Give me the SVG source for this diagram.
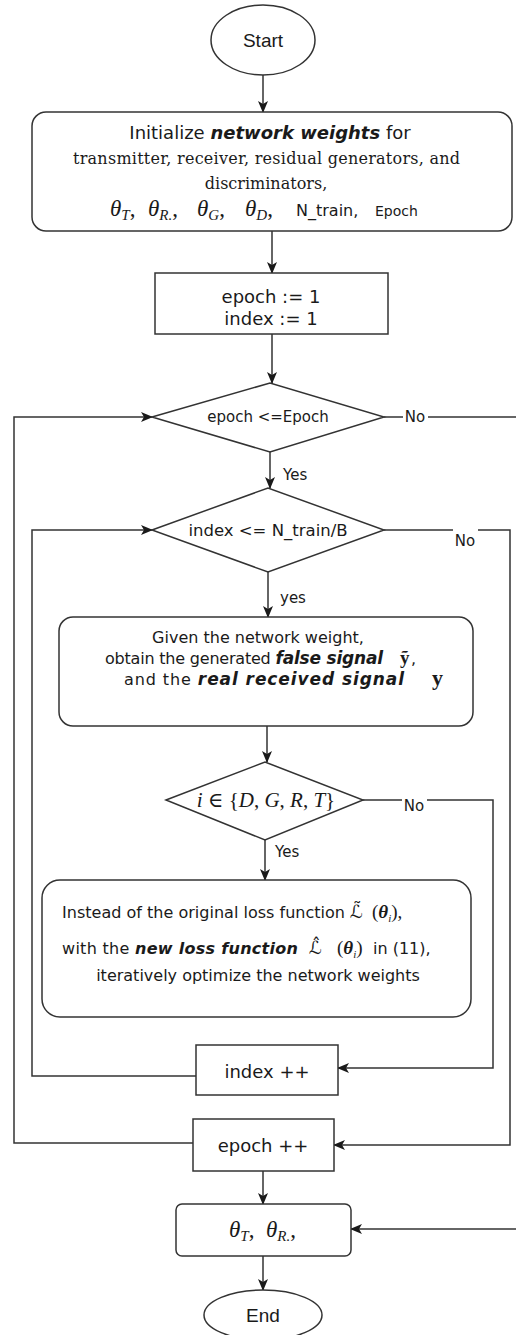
<svg xmlns="http://www.w3.org/2000/svg" width="516" height="1335" viewBox="0 0 516 1335">
<defs>
<style>
.box{fill:#fff;stroke:#333;stroke-width:1.5}
.ln{fill:none;stroke:#333;stroke-width:1.5}
.arr{marker-end:url(#ah)}
.t{font-family:"DejaVu Sans",Verdana,sans-serif;fill:#1a1a1a}
.bi{font-weight:bold;font-style:italic}
.sf{font-family:"DejaVu Serif",serif;fill:#1a1a1a}
.m{font-family:"Liberation Serif","DejaVu Serif",serif;font-style:italic;fill:#1a1a1a}
.cal{font-family:"DejaVu Sans",sans-serif;font-style:normal;fill:#1a1a1a}
.up{font-style:normal}
.a{font-family:"Liberation Sans",Arial,sans-serif;fill:#1a1a1a}
.lbl{font-family:"DejaVu Sans",sans-serif;font-size:15px;fill:#1a1a1a}
.bg{fill:#fff}
</style>
<marker id="ah" viewBox="0 0 12 10" refX="11" refY="5" markerWidth="12" markerHeight="10" markerUnits="userSpaceOnUse" orient="auto"><path d="M0,0 L12,5 L0,10 L3,5 Z" fill="#1a1a1a"/></marker>
</defs>
<rect width="516" height="1335" fill="#fff"/>

<g id="connectors">
<path class="ln arr" d="M263,75 V112"/>
<path class="ln arr" d="M272,231 V273"/>
<path class="ln arr" d="M272,334 V383"/>
<path class="ln arr" d="M270,452 V488"/>
<path class="ln" d="M384,417 H516"/>
<path class="ln arr" d="M193,1143 H14 V417 H152"/>
<path class="ln arr" d="M384,530 H510 V1145 H334"/>
<path class="ln arr" d="M196,1076 H32 V530 H152"/>
<path class="ln arr" d="M268,572 V617"/>
<path class="ln arr" d="M267,726 V762"/>
<path class="ln arr" d="M363,800 H493 V1068 H338"/>
<path class="ln arr" d="M265,840 V880"/>
<path class="ln arr" d="M263,1171 V1204"/>
<path class="ln arr" d="M516,1229 H351"/>
<path class="ln arr" d="M263,1256 V1290"/>
<rect class="bg" x="403" y="409" width="25" height="16"/>
<text class="lbl" x="415" y="422" text-anchor="middle">No</text>
<text class="lbl" x="283" y="480">Yes</text>
<rect class="bg" x="453" y="527" width="25" height="20"/>
<text class="lbl" x="465" y="546" text-anchor="middle">No</text>
<text class="lbl" x="280" y="603">yes</text>
<rect class="bg" x="402" y="795" width="25" height="18"/>
<text class="lbl" x="414" y="811" text-anchor="middle">No</text>
<text class="lbl" x="275" y="857">Yes</text>
</g>

<g id="start">
<ellipse class="box" cx="263" cy="40" rx="52" ry="35"/>
<text class="a" x="263" y="47" font-size="19" text-anchor="middle">Start</text>
</g>

<g id="init">
<rect class="box" x="32" y="112" width="480" height="119" rx="14"/>
<text class="t" x="270" y="139" font-size="18" text-anchor="middle">Initialize <tspan class="bi">network weights</tspan> for</text>
<text class="sf" x="73" y="164" font-size="16" textLength="387">transmitter, receiver, residual generators, and</text>
<text class="sf" x="266" y="189" font-size="16" text-anchor="middle">discriminators,</text>
<text class="m" font-size="23"><tspan x="110" y="216">θ</tspan><tspan y="220" font-size="15">T</tspan><tspan y="216" class="up">,</tspan><tspan x="148" y="216">θ</tspan><tspan y="220" font-size="15">R.</tspan><tspan y="216" class="up">,</tspan><tspan x="197" y="216">θ</tspan><tspan y="220" font-size="15">G</tspan><tspan y="216" class="up">,</tspan><tspan x="245" y="216">θ</tspan><tspan y="220" font-size="15">D</tspan><tspan y="216" class="up">,</tspan></text>
<text class="t" x="296" y="216" font-size="16">N_train,</text>
<text class="t" x="375" y="216" font-size="14">Epoch</text>
</g>

<g id="init-counters">
<rect class="box" x="155" y="273" width="233" height="61"/>
<text class="t" x="271" y="303" font-size="18" text-anchor="middle">epoch := 1</text>
<text class="t" x="271" y="325" font-size="18" text-anchor="middle">index := 1</text>
</g>

<g id="check-epoch">
<polygon class="box" points="152,417 270,383 384,417 270,452"/>
<text class="t" x="268" y="422" font-size="15" text-anchor="middle">epoch &lt;=Epoch</text>
</g>

<g id="check-index">
<polygon class="box" points="152,530 268,488 384,530 268,572"/>
<text class="t" x="268" y="536" font-size="16.5" text-anchor="middle">index &lt;= N_train/B</text>
</g>

<g id="signals">
<rect class="box" x="59" y="617" width="414" height="109" rx="14"/>
<text class="t" x="258" y="643" font-size="16" text-anchor="middle">Given the network weight,</text>
<text class="t" x="105" y="664" font-size="16" textLength="278">obtain the generated <tspan class="bi" font-size="17">false signal</tspan></text>
<text class="m up" x="400" y="664" font-size="19" font-weight="bold">ỹ</text>
<text class="t" x="411" y="664" font-size="16">,</text>
<text class="t" x="124" y="685" font-size="16" textLength="280">and the <tspan class="bi" font-size="17">real received signal</tspan></text>
<text class="m up" x="432" y="685" font-size="22" font-weight="bold">y</text>
</g>

<g id="check-member">
<polygon class="box" points="166,800 265,762 363,800 265,840"/>
<text class="m" x="266" y="807" font-size="21" text-anchor="middle">i <tspan class="up">∈ {</tspan>D<tspan class="up">, </tspan>G<tspan class="up">, </tspan>R<tspan class="up">, </tspan>T<tspan class="up">}</tspan></text>
</g>

<g id="loss">
<rect class="box" x="42" y="880" width="429" height="137" rx="18"/>
<text class="t" x="62" y="918" font-size="16" textLength="283">Instead of the original loss function</text>
<text class="m" font-size="18"><tspan class="cal" x="350" y="918">ℒ̃</tspan><tspan class="up" font-size="19" x="372" y="918">(</tspan><tspan font-size="19" font-weight="bold">θ</tspan><tspan font-size="11" y="922">i</tspan><tspan class="up" font-size="19" y="918">),</tspan></text>
<text class="t" x="62" y="954" font-size="16" textLength="236">with the <tspan class="bi">new loss function</tspan></text>
<text class="m" font-size="18"><tspan class="cal" x="309" y="954">ℒ̂</tspan><tspan class="up" font-size="19" x="337" y="954">(</tspan><tspan font-size="19" font-weight="bold">θ</tspan><tspan font-size="11" y="958">i</tspan><tspan class="up" font-size="19" y="954">)</tspan><tspan class="t up" font-size="16" x="373" y="954">in (11),</tspan></text>
<text class="t" x="258" y="981" font-size="16" text-anchor="middle">iteratively optimize the network weights</text>
</g>

<g id="index-inc">
<rect class="box" x="196" y="1045" width="142" height="50"/>
<text class="t" x="267" y="1078" font-size="18" text-anchor="middle">index ++</text>
</g>

<g id="epoch-inc">
<rect class="box" x="193" y="1119" width="141" height="52"/>
<text class="t" x="263" y="1152" font-size="18" text-anchor="middle">epoch ++</text>
</g>

<g id="output">
<rect class="box" x="176" y="1204" width="175" height="52" rx="6"/>
<text class="m" font-size="23"><tspan x="229" y="1237">θ</tspan><tspan y="1241" font-size="15">T</tspan><tspan y="1237" class="up">,</tspan><tspan x="266" y="1237">θ</tspan><tspan y="1241" font-size="15">R.</tspan><tspan y="1237" class="up">,</tspan></text>
</g>

<g id="end">
<ellipse class="box" cx="263" cy="1315" rx="59" ry="25"/>
<text class="a" x="263" y="1322" font-size="19" text-anchor="middle">End</text>
</g>
</svg>
